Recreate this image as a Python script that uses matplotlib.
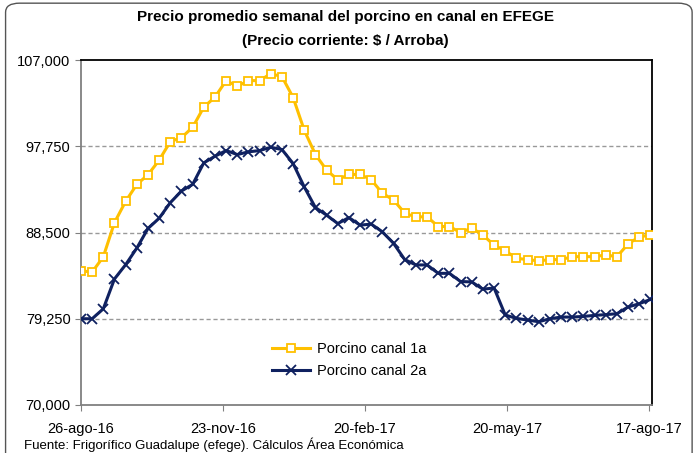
import matplotlib
matplotlib.use("Agg")
import matplotlib.pyplot as plt
from matplotlib.patches import FancyBboxPatch
from matplotlib.ticker import FuncFormatter
import pandas as pd

plt.rcParams['font.family'] = ['Liberation Sans', 'DejaVu Sans']

# semanas desde 26-ago-16
fechas = pd.date_range("2016-08-26", periods=52, freq="7D")

canal_1a = [84400, 84250, 85900, 89570, 91840, 93660, 94690, 96260, 98250, 98680,
            99780, 101950, 103020, 104790, 104180, 104790, 104790, 105540, 105220, 102980,
            99460, 96860, 95190, 94160, 94730, 94730, 94160, 92700, 91990, 90570,
            90170, 90190, 89140, 89140, 88500, 88990, 88220, 87150, 86530, 85740,
            85590, 85460, 85590, 85590, 85910, 85910, 85910, 86090, 85910, 87260,
            88040, 88220]

canal_2a = [79250, 79250, 80320, 83520, 85050, 86830, 88930, 90030, 91700, 92950,
            93660, 95970, 96680, 97290, 96860, 97150, 97290, 97640, 97400, 95900,
            93380, 91170, 90360, 89460, 90100, 89290, 89400, 88570, 87330, 85590,
            85020, 85020, 84120, 84120, 83240, 83200, 82420, 82550, 79650, 79290,
            79110, 78930, 79250, 79430, 79430, 79500, 79610, 79690, 79790, 80510,
            80860, 81320]

fechas_ticks = ["2016-08-26", "2016-11-23", "2017-02-20", "2017-05-20", "2017-08-17"]
etiquetas_x = ["26-ago-16", "23-nov-16", "20-feb-17", "20-may-17", "17-ago-17"]
y_ticks = [70000, 79250, 88500, 97750, 107000]

fig = plt.figure(figsize=(6.97, 4.53), dpi=100)
ax = fig.add_axes([0.1162, 0.106, 0.8192, 0.7615])

ax.plot(fechas, canal_1a, color='#FFC000', lw=2.2, marker='s', ms=5.5,
        mfc='white', mec='#FFC000', mew=1.3, label='Porcino canal 1a', zorder=3)
ax.plot(fechas, canal_2a, color='#0F2160', lw=2.2, marker='x', ms=7,
        mec='#0F2160', mew=1.3, label='Porcino canal 2a', zorder=3)

ax.set_ylim(70000, 107000)
ax.set_yticks(y_ticks)
ax.yaxis.set_major_formatter(FuncFormatter(lambda v, p: f"{int(v):,}"))
ax.set_xlim(pd.Timestamp("2016-08-26"), pd.Timestamp("2017-08-19"))
ax.set_xticks([pd.Timestamp(d) for d in fechas_ticks])
ax.set_xticklabels(etiquetas_x)

for v in y_ticks[1:4]:
    ax.axhline(v, color='#999999', lw=1, ls=(0, (3, 2)), zorder=1)

for s in ['left', 'bottom']:
    ax.spines[s].set_color('#808080')
    ax.spines[s].set_linewidth(1.3)
for s in ['top', 'right']:
    ax.spines[s].set_color('black')
    ax.spines[s].set_linewidth(1.3)

ax.tick_params(axis='both', labelsize=10.5, length=4, color='#808080', direction='out')
ax.tick_params(axis='x', pad=8)

ax.legend(loc='center', bbox_to_anchor=(0.47, 0.13), frameon=False,
          fontsize=10.5, handlelength=2.6, handletextpad=0.5, labelspacing=0.5)

fig.text(0.495, 0.962, "Precio promedio semanal del porcino en canal en EFEGE",
         ha='center', va='center', fontsize=11, fontweight='bold')
fig.text(0.495, 0.91, "(Precio corriente: $ / Arroba)",
         ha='center', va='center', fontsize=11, fontweight='bold')

fig.text(0.035, 0.002, "Fuente: Frigorífico Guadalupe (efege). Cálculos Área Económica",
         ha='left', va='bottom', fontsize=9.5)

borde = FancyBboxPatch((0.008, -0.1), 0.985, 1.093, boxstyle="round,pad=0,rounding_size=0.02",
                       transform=fig.transFigure, fill=False, ec='#555555', lw=1)
fig.patches.append(borde)

fig.savefig("out.png", dpi=100)
